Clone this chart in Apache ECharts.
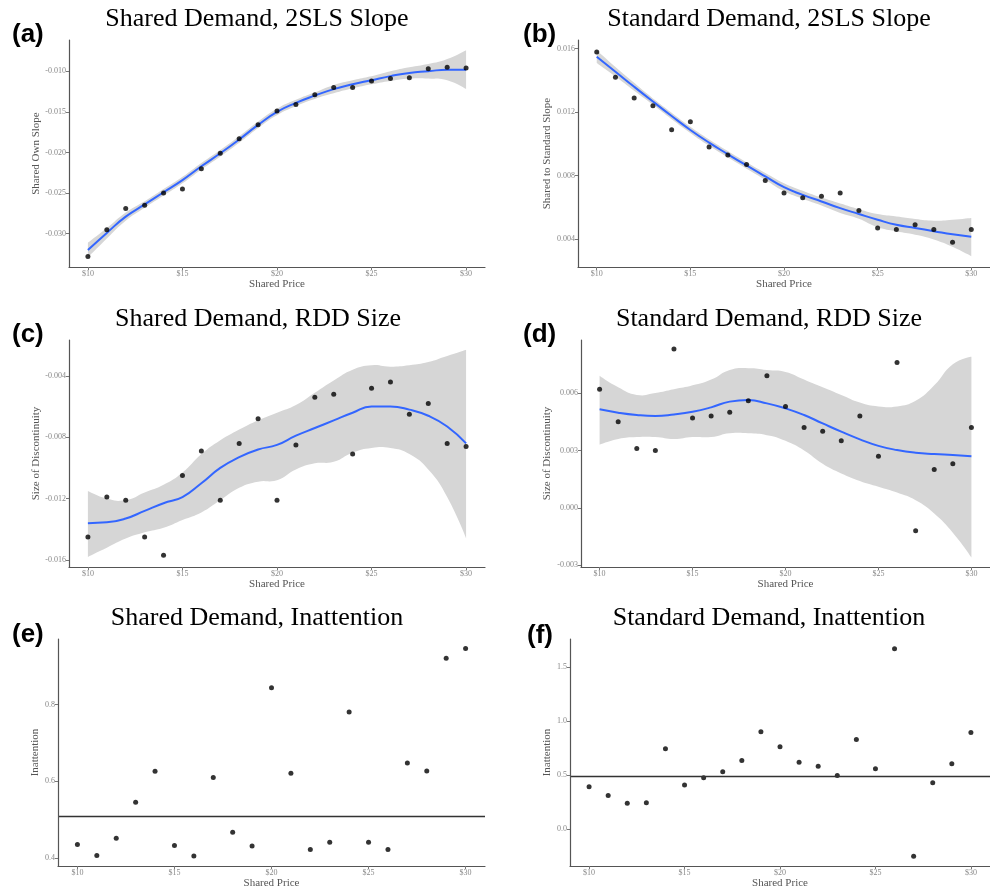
<!DOCTYPE html>
<html lang="en">
<head>
<meta charset="UTF-8" />
<title>Shared vs Standard Demand</title>
<script src="https://cdn.jsdelivr.net/npm/echarts@6/dist/echarts.min.js"></script>
<style>
  html, body { margin: 0; padding: 0; background: #fff; }
  #chart { width: 990px; height: 890px; }
</style>
</head>
<body>
<div id="chart"></div>
<script>
// shared price grid (x for every panel)
const price = [10, 11, 12, 13, 14, 15, 16, 17, 18, 19, 20, 21, 22, 23, 24, 25, 26, 27, 28, 29, 30];
const priceTicks = [10, 15, 20, 25, 30];

// (a) shared demand, 2SLS slope
const sharedSlope = [-0.0328, -0.0295, -0.0269, -0.0265, -0.0250, -0.0245, -0.0220, -0.0201, -0.0183, -0.0166, -0.0149, -0.0141, -0.0129, -0.0120, -0.0120, -0.0112, -0.0109, -0.0108, -0.0097, -0.0095, -0.0096];
const sharedSlopeFit = [-0.0320, -0.0299, -0.0279, -0.0264, -0.0249, -0.0234, -0.0217, -0.0201, -0.0184, -0.0166, -0.0150, -0.0139, -0.0130, -0.0122, -0.0116, -0.0111, -0.0106, -0.0102, -0.0100, -0.0098, -0.0098];
const sharedSlopeLo = [-0.0329, -0.0306, -0.0284, -0.0268, -0.0253, -0.0238, -0.0221, -0.0205, -0.0188, -0.0170, -0.0154, -0.0143, -0.0134, -0.0127, -0.0121, -0.0116, -0.0112, -0.0109, -0.0109, -0.0111, -0.0122];
const sharedSlopeHi = [-0.0311, -0.0293, -0.0274, -0.0260, -0.0245, -0.0230, -0.0213, -0.0197, -0.0180, -0.0162, -0.0146, -0.0135, -0.0126, -0.0117, -0.0111, -0.0106, -0.0100, -0.0095, -0.0091, -0.0085, -0.0074];
const sharedSlopeTicks = [-0.030, -0.025, -0.020, -0.015, -0.010];

// (b) standard demand, 2SLS slope
const standardSlope = [0.0158, 0.0142, 0.0129, 0.0124, 0.0109, 0.0114, 0.0098, 0.0093, 0.0087, 0.0077, 0.0069, 0.0066, 0.0067, 0.0069, 0.0058, 0.0047, 0.0046, 0.0049, 0.0046, 0.0038, 0.0046];
const standardSlopeFit = [0.0155, 0.01455, 0.0136, 0.01267, 0.01176, 0.01088, 0.01008, 0.00935, 0.00864, 0.00795, 0.00727, 0.00679, 0.00637, 0.00595, 0.00558, 0.00522, 0.0049, 0.0047, 0.0045, 0.0043, 0.00415];
const standardSlopeLo = [0.0151, 0.01425, 0.01335, 0.01247, 0.01156, 0.01068, 0.00988, 0.00915, 0.00844, 0.00773, 0.00702, 0.00654, 0.00612, 0.00565, 0.00528, 0.00475, 0.00449, 0.00428, 0.00397, 0.00351, 0.00292];
const standardSlopeHi = [0.0159, 0.01485, 0.01385, 0.01287, 0.01196, 0.01108, 0.01028, 0.00955, 0.00884, 0.00817, 0.00752, 0.00704, 0.00662, 0.00625, 0.00588, 0.00558, 0.00543, 0.00527, 0.00516, 0.00522, 0.00533];
const standardSlopeTicks = [0.004, 0.008, 0.012, 0.016];

// (c) shared demand, RDD size
const sharedRdd = [-0.0145, -0.0119, -0.0121, -0.0145, -0.0157, -0.0105, -0.0089, -0.0121, -0.0084, -0.0068, -0.0121, -0.0085, -0.0054, -0.0052, -0.0091, -0.0048, -0.0044, -0.0065, -0.0058, -0.0084, -0.0086];
const sharedRddFit = [-0.0136, -0.01355, -0.0133, -0.0128, -0.0123, -0.0119, -0.0110, -0.0100, -0.0093, -0.0088, -0.0085, -0.0079, -0.0074, -0.0069, -0.0064, -0.0060, -0.0060, -0.0062, -0.0066, -0.0073, -0.0084];
const sharedRddLo = [-0.0158, -0.0152, -0.0146, -0.0142, -0.0139, -0.0134, -0.0129, -0.0121, -0.0113, -0.0109, -0.0108, -0.0101, -0.0097, -0.0096, -0.0090, -0.0087, -0.0087, -0.0091, -0.0101, -0.0119, -0.0146];
const sharedRddHi = [-0.0115, -0.0120, -0.0121, -0.0116, -0.0111, -0.0103, -0.0091, -0.0082, -0.0075, -0.0069, -0.0064, -0.0059, -0.0051, -0.0043, -0.0036, -0.0033, -0.0034, -0.0033, -0.0031, -0.0027, -0.0023];
const sharedRddTicks = [-0.016, -0.012, -0.008, -0.004];

// (d) standard demand, RDD size
const standardRdd = [0.0062, 0.0045, 0.0031, 0.0030, 0.0083, 0.0047, 0.0048, 0.0050, 0.0056, 0.0069, 0.0053, 0.0042, 0.0040, 0.0035, 0.0048, 0.0027, 0.0076, -0.0012, 0.0020, 0.0023, 0.0042];
const standardRddFit = [0.00515, 0.00497, 0.00485, 0.0048, 0.00488, 0.00502, 0.00525, 0.00555, 0.00563, 0.00546, 0.0052, 0.00485, 0.00441, 0.00398, 0.00358, 0.00324, 0.00302, 0.00288, 0.00281, 0.00276, 0.0027];
const standardRddLo = [0.0033, 0.0036, 0.0037, 0.0037, 0.0036, 0.0037, 0.0037, 0.0039, 0.0039, 0.0038, 0.0035, 0.0030, 0.0023, 0.0018, 0.0014, 0.0011, 0.0008, 0.0004, -0.0003, -0.0013, -0.0026];
const standardRddHi = [0.0069, 0.0063, 0.0059, 0.0060, 0.0062, 0.0064, 0.0067, 0.0072, 0.0073, 0.0072, 0.0071, 0.0067, 0.0063, 0.0059, 0.0055, 0.0053, 0.0053, 0.0056, 0.0064, 0.0075, 0.0079];
const standardRddTicks = [-0.003, 0.000, 0.003, 0.006];

// (e) / (f) inattention, with the overall mean drawn as a flat line
const sharedInatt = [0.436, 0.407, 0.452, 0.546, 0.626, 0.433, 0.406, 0.610, 0.468, 0.432, 0.843, 0.621, 0.423, 0.442, 0.780, 0.442, 0.423, 0.648, 0.627, 0.920, 0.945];
const sharedInattMean = 0.513;
const sharedInattTicks = [0.4, 0.6, 0.8];
const standardInatt = [0.393, 0.313, 0.242, 0.245, 0.744, 0.409, 0.476, 0.532, 0.636, 0.901, 0.763, 0.621, 0.584, 0.498, 0.831, 0.559, 1.668, -0.248, 0.430, 0.606, 0.895];
const standardInattMean = 0.489;
const standardInattTicks = [0.0, 0.5, 1.0, 1.5];

const serif = '"Liberation Serif", "DejaVu Serif", serif';
const pair = (ys) => price.map((x, k) => [x, ys[k]]);

const panels = [
  { box: [69, 40, 416, 227], y: [-0.0341, -0.00615], ticks: sharedSlopeTicks, dec: 3, name: 'Shared Own Slope', gap: 27,
    pts: sharedSlope, fit: sharedSlopeFit, lo: sharedSlopeLo, hi: sharedSlopeHi },
  { box: [578, 40, 417, 227], y: [0.00224, 0.01655], ticks: standardSlopeTicks, dec: 3, name: 'Shared to Standard Slope', gap: 25,
    pts: standardSlope, fit: standardSlopeFit, lo: standardSlopeLo, hi: standardSlopeHi },
  { box: [69, 340, 416, 227], y: [-0.01646, -0.00166], ticks: sharedRddTicks, dec: 3, name: 'Size of Discontinuity', gap: 27,
    pts: sharedRdd, fit: sharedRddFit, lo: sharedRddLo, hi: sharedRddHi },
  { box: [581, 340, 414, 227], y: [-0.00309, 0.00877], ticks: standardRddTicks, dec: 3, name: 'Size of Discontinuity', gap: 28,
    pts: standardRdd, fit: standardRddFit, lo: standardRddLo, hi: standardRddHi },
  { box: [58, 639, 427, 227], y: [0.38, 0.97], ticks: sharedInattTicks, dec: 1, name: 'Inattention', gap: 17,
    pts: sharedInatt, mean: sharedInattMean },
  { box: [570, 639, 426, 227], y: [-0.339, 1.759], ticks: standardInattTicks, dec: 1, name: 'Inattention', gap: 17,
    pts: standardInatt, mean: standardInattMean }
];

const titles = [
  ['(a)', 'Shared Demand, 2SLS Slope', 12, 35, 257, 19],
  ['(b)', 'Standard Demand, 2SLS Slope', 523, 35, 769, 19],
  ['(c)', 'Shared Demand, RDD Size', 12, 335, 258, 319],
  ['(d)', 'Standard Demand, RDD Size', 523, 335, 769, 319],
  ['(e)', 'Shared Demand, Inattention', 12, 635, 257, 618],
  ['(f)', 'Standard Demand, Inattention', 527, 636, 769, 618]
];

// trace a smooth edge through pixel points, same control-point rule as the line series
function smoothEdge(pts, s, steps) {
  const n = pts.length;
  const ctrl = pts.map((p, k) => {
    if (k === 0 || k === n - 1) return [p, p];
    const a = pts[k - 1], b = pts[k + 1];
    const d0 = Math.hypot(p[0] - a[0], p[1] - a[1]);
    const d1 = Math.hypot(b[0] - p[0], b[1] - p[1]);
    const vx = (b[0] - a[0]) * s, vy = (b[1] - a[1]) * s;
    const r0 = d0 / (d0 + d1), r1 = d1 / (d0 + d1);
    return [[p[0] - vx * r0, p[1] - vy * r0], [p[0] + vx * r1, p[1] + vy * r1]];
  });
  const out = [pts[0]];
  for (let k = 0; k < n - 1; k++) {
    const p0 = pts[k], c1 = ctrl[k][1], c2 = ctrl[k + 1][0], p3 = pts[k + 1];
    for (let j = 1; j <= steps; j++) {
      const t = j / steps, u = 1 - t;
      out.push([
        u * u * u * p0[0] + 3 * u * u * t * c1[0] + 3 * u * t * t * c2[0] + t * t * t * p3[0],
        u * u * u * p0[1] + 3 * u * u * t * c1[1] + 3 * u * t * t * c2[1] + t * t * t * p3[1]
      ]);
    }
  }
  return out;
}

const grid = [], xAxis = [], yAxis = [], series = [];
panels.forEach((p, i) => {
  grid.push({ left: p.box[0], top: p.box[1], width: p.box[2], height: p.box[3] });
  xAxis.push({
    gridIndex: i, type: 'value', min: 9, max: 31, z: 10,
    name: 'Shared Price', nameLocation: 'middle', nameGap: 10,
    nameTextStyle: { fontFamily: serif, fontSize: 11, color: '#555' },
    splitLine: { show: false },
    axisLine: { onZero: false, lineStyle: { color: '#555', width: 1.2 } },
    axisTick: { length: 3, lineStyle: { color: '#777' }, customValues: priceTicks },
    axisLabel: { customValues: priceTicks, formatter: v => '$' + v, fontFamily: serif, fontSize: 8, color: '#888', margin: 3 }
  });
  yAxis.push({
    gridIndex: i, type: 'value', min: p.y[0], max: p.y[1], z: 10,
    name: p.name, nameLocation: 'middle', nameGap: p.gap,
    nameTextStyle: { fontFamily: serif, fontSize: 11, color: '#555' },
    splitLine: { show: false },
    axisLine: { show: true, onZero: false, lineStyle: { color: '#555', width: 1.2 } },
    axisTick: { show: true, length: 3, lineStyle: { color: '#777' }, customValues: p.ticks },
    axisLabel: { customValues: p.ticks, formatter: v => v.toFixed(p.dec), fontFamily: serif, fontSize: 8, color: '#888', margin: 3 }
  });
  if (p.fit) {
    // confidence ribbon as one filled shape between the upper and lower edges
    series.push({
      type: 'custom', xAxisIndex: i, yAxisIndex: i, data: pair(p.hi), silent: true, z: 1,
      renderItem: (params, api) => {
        if (params.dataIndex !== 0) return null;
        const top = smoothEdge(p.hi.map((v, k) => api.coord([price[k], v])), 0.5, 8);
        const bot = smoothEdge(p.lo.map((v, k) => api.coord([price[k], v])), 0.5, 8);
        return { type: 'polygon', shape: { points: top.concat(bot.reverse()) }, style: { fill: '#d6d6d6' } };
      }
    });
    series.push({ type: 'line', xAxisIndex: i, yAxisIndex: i, data: pair(p.fit), smooth: 0.5, symbol: 'none', silent: true, z: 3,
      lineStyle: { color: '#3366ff', width: 2 } });
  }
  const pts = { type: 'scatter', xAxisIndex: i, yAxisIndex: i, data: pair(p.pts), symbolSize: 5, z: 4,
    itemStyle: { color: '#000' } };
  if (p.mean !== undefined) {
    pts.markLine = { symbol: 'none', silent: true, label: { show: false },
      lineStyle: { color: '#333', width: 1.3, type: 'solid' }, data: [{ yAxis: p.mean }] };
  }
  series.push(pts);
});

const graphic = [];
titles.forEach(t => {
  graphic.push({ type: 'text', x: t[2], y: t[3], style: { text: t[0], align: 'left', verticalAlign: 'middle',
    font: 'bold 26px "Liberation Sans", Arial, sans-serif', fill: '#000' } });
  graphic.push({ type: 'text', x: t[4], y: t[5], style: { text: t[1], align: 'center', verticalAlign: 'middle',
    font: '26px ' + serif, fill: '#000' } });
});

const chart = echarts.init(document.getElementById('chart'));
chart.setOption({ animation: false, backgroundColor: '#fff', grid, xAxis, yAxis, series, graphic });
</script>
</body>
</html>
